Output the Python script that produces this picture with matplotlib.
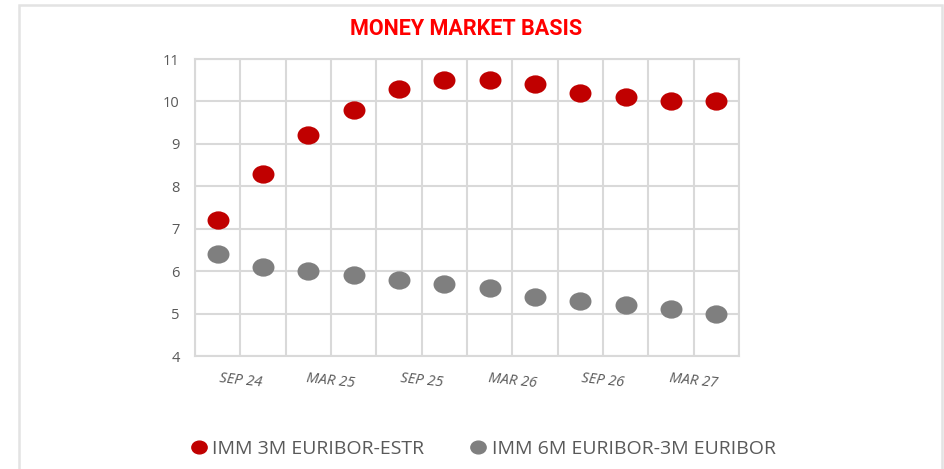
import matplotlib
matplotlib.use("Agg")
import matplotlib.pyplot as plt
import numpy as np
from matplotlib.path import Path
from matplotlib.lines import Line2D
from matplotlib.patches import Rectangle

# data
contracts = ["SEP 24", "DEC 24", "MAR 25", "JUN 25", "SEP 25", "DEC 25",
             "MAR 26", "JUN 26", "SEP 26", "DEC 26", "MAR 27", "JUN 27"]
euribor_estr = [7.2, 8.3, 9.2, 9.8, 10.3, 10.5, 10.5, 10.4, 10.2, 10.1, 10.0, 10.0]
euribor_6m_3m = [6.4, 6.1, 6.0, 5.9, 5.8, 5.7, 5.6, 5.4, 5.3, 5.2, 5.1, 5.0]
tick_labels = ["SEP 24", "MAR 25", "SEP 25", "MAR 26", "SEP 26", "MAR 27"]
series_names = ["IMM 3M EURIBOR-ESTR", "IMM 6M EURIBOR-3M EURIBOR"]

RED = "#C00000"
GREY = "#7F7F7F"
TXT = "#595959"
GRID = "#D9D9D9"

plt.rcParams["font.family"] = ["Open Sans", "DejaVu Sans"]

# slightly wide ellipse marker
circ = Path.unit_circle()
ellipse = Path(circ.vertices * np.array([1.2, 1.0]), circ.codes)

fig = plt.figure(figsize=(9.44, 4.69), dpi=100)
ax = fig.add_axes([0.2066, 0.2409, 0.5763, 0.6333])

x = np.arange(len(contracts))
ax.scatter(x, euribor_estr, s=250, marker=ellipse, color=RED, zorder=3, linewidths=0)
ax.scatter(x, euribor_6m_3m, s=250, marker=ellipse, color=GREY, zorder=3, linewidths=0)

ax.set_xlim(-0.5, len(contracts) - 0.5)
ax.set_ylim(4, 11)
ax.set_yticks(range(4, 12))

# gridlines on category boundaries, labels on every other boundary
ax.set_xticks(np.arange(-0.5, len(contracts)), minor=True)
ax.set_xticks(np.arange(0.5, len(contracts), 2))
ax.set_xticklabels(tick_labels, fontsize=10.5, color=TXT, style="italic", rotation=-6,
                   ha="center", va="top")
ax.tick_params(axis="x", which="both", length=0, pad=11)
ax.tick_params(axis="y", length=0, pad=11, labelsize=10.5, labelcolor=TXT)
ax.grid(True, which="both", axis="x", color=GRID, linewidth=1.5)
ax.grid(True, which="major", axis="y", color=GRID, linewidth=1.5)
ax.set_axisbelow(True)
for side in ["top", "right", "left", "bottom"]:
    ax.spines[side].set_color(GRID)
    ax.spines[side].set_linewidth(1.5)

fig.text(0.494, 0.938, "MONEY MARKET BASIS", color="#FF0000", fontsize=15.5,
         fontweight="bold", ha="center", va="center", family=["Roboto", "DejaVu Sans"])

handles = [Line2D([], [], linestyle="none", marker=ellipse, markersize=11, color=c)
           for c in (RED, GREY)]
leg = fig.legend(handles, series_names, loc="center", bbox_to_anchor=(0.513, 0.043),
                 ncol=2, frameon=False, handlelength=0.6, handletextpad=0.37,
                 columnspacing=2.5, fontsize=14, borderaxespad=0, borderpad=0)
for t in leg.get_texts():
    t.set_color(TXT)

# light frame around the chart
fig.patches.append(Rectangle((19 / 944, -0.05), 923 / 944, 1.05 - 5 / 469,
                             transform=fig.transFigure, fill=False,
                             edgecolor="#E3E3E3", linewidth=1.8))

fig.savefig("out.png", dpi=100)
plt.close(fig)
